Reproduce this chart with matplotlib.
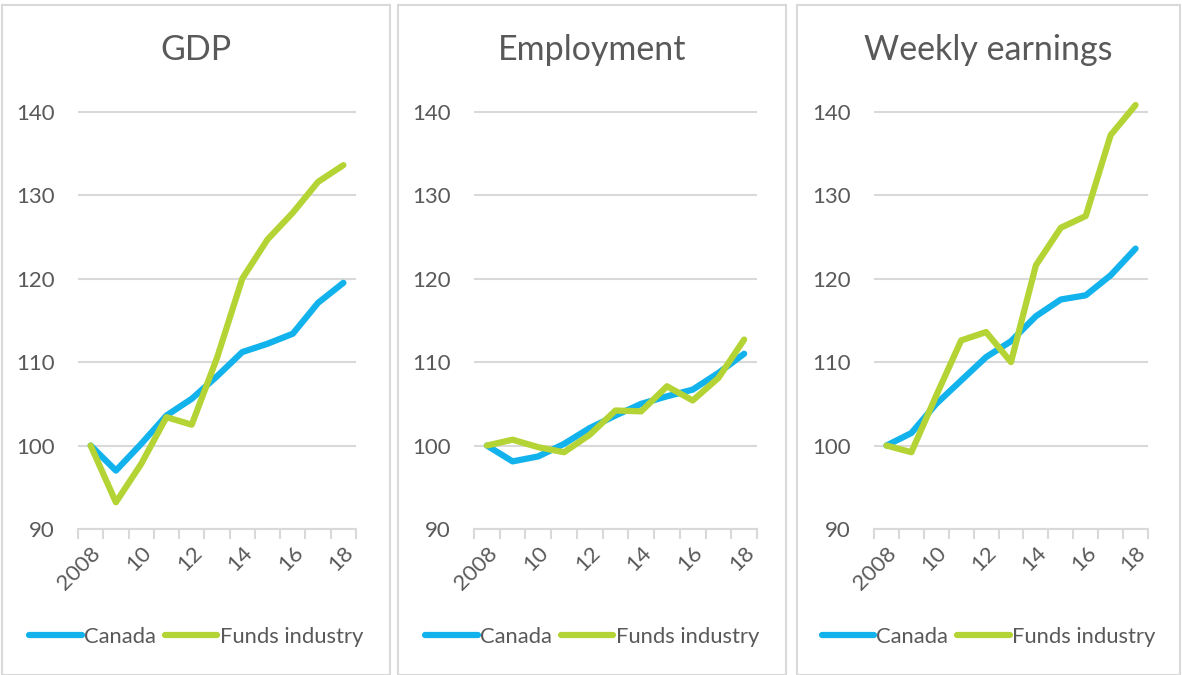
import matplotlib.pyplot as plt
from matplotlib.patches import Rectangle
from matplotlib.lines import Line2D

plt.rcParams['font.family'] = ['Lato', 'DejaVu Sans']

years = list(range(2008, 2019))
tick_labels = ['2008', '10', '12', '14', '16', '18']

gdp_canada = [100, 97.0, 100.2, 103.6, 105.6, 108.3, 111.2, 112.2, 113.4, 117.1, 119.5]
gdp_funds = [100, 93.2, 97.8, 103.4, 102.5, 110.5, 120.0, 124.7, 127.9, 131.6, 133.6]

emp_canada = [100, 98.1, 98.7, 100.2, 102.1, 103.6, 105.0, 105.9, 106.7, 108.7, 111.0]
emp_funds = [100, 100.7, 99.8, 99.2, 101.3, 104.2, 104.1, 107.1, 105.4, 108.1, 112.7]

earn_canada = [100, 101.5, 105.0, 107.8, 110.6, 112.5, 115.5, 117.5, 118.0, 120.4, 123.6]
earn_funds = [100, 99.2, 106.0, 112.6, 113.6, 110.0, 121.6, 126.1, 127.5, 137.2, 140.8]

titles = ['GDP', 'Employment', 'Weekly earnings']
series = [(gdp_canada, gdp_funds), (emp_canada, emp_funds), (earn_canada, earn_funds)]

BLUE = '#12B2EC'
GREEN = '#B4D335'
TEXT = '#595959'
GRID = '#D9D9D9'

W, H = 1182, 675
fig = plt.figure(figsize=(W / 100, H / 100), dpi=100)

# panel frames (left, right) and plot areas (left, right) in pixels
frames = [(2, 390), (398, 786), (797, 1180)]
plots = [(78, 356), (474, 757), (874, 1148)]
y_bot, y_top = 529, 70

for (fl, fr), (pl, pr), title, (can, fund) in zip(frames, plots, titles, series):
    fig.patches.append(Rectangle((fl / W, 0), (fr - fl) / W, (H - 5) / H,
                                 transform=fig.transFigure, fill=False,
                                 edgecolor=GRID, linewidth=1.5))
    ax = fig.add_axes([pl / W, 1 - y_bot / H, (pr - pl) / W, (y_bot - y_top) / H])
    x = list(range(len(years)))
    ax.plot(x, can, color=BLUE, lw=4.5, solid_capstyle='round', clip_on=False, zorder=3)
    ax.plot(x, fund, color=GREEN, lw=4.5, solid_capstyle='round', clip_on=False, zorder=4)

    ax.set_xlim(-0.5, 10.5)
    ax.set_ylim(90, 145)
    ax.set_yticks(range(90, 141, 10))
    ax.yaxis.grid(True, color=GRID, lw=1.5)
    ax.set_axisbelow(True)
    for s in ['top', 'right', 'left']:
        ax.spines[s].set_visible(False)
    ax.spines['bottom'].set_color(GRID)
    ax.spines['bottom'].set_linewidth(1.5)

    ax.set_xticks(range(0, 11, 2))
    ax.set_xticklabels(tick_labels, rotation=45, ha='right', va='top',
                       rotation_mode='anchor')
    ax.set_xticks([i - 0.5 for i in range(12)], minor=True)
    ax.tick_params(axis='x', which='major', length=0, pad=10, labelsize=16,
                   labelcolor=TEXT)
    ax.tick_params(axis='x', which='minor', length=7, width=1.5, color=GRID)
    ax.tick_params(axis='y', length=0, pad=17, labelsize=16, labelcolor=TEXT)

    fig.text((fl + fr) / 2 / W, 1 - 50 / H, title, ha='center', va='center',
             fontsize=24.5, color=TEXT)

    handles = [Line2D([], [], color=BLUE, lw=4.5, solid_capstyle='round'),
               Line2D([], [], color=GREEN, lw=4.5, solid_capstyle='round')]
    fig.legend(handles, ['Canada', 'Funds industry'], loc='center',
               bbox_to_anchor=((fl + fr) / 2 / W, 1 - 637 / H), ncol=2,
               frameon=False, fontsize=15.8, labelcolor=TEXT, handlelength=2.4,
               handletextpad=0.1, columnspacing=0.4)

fig.savefig('out.png', dpi=100)
